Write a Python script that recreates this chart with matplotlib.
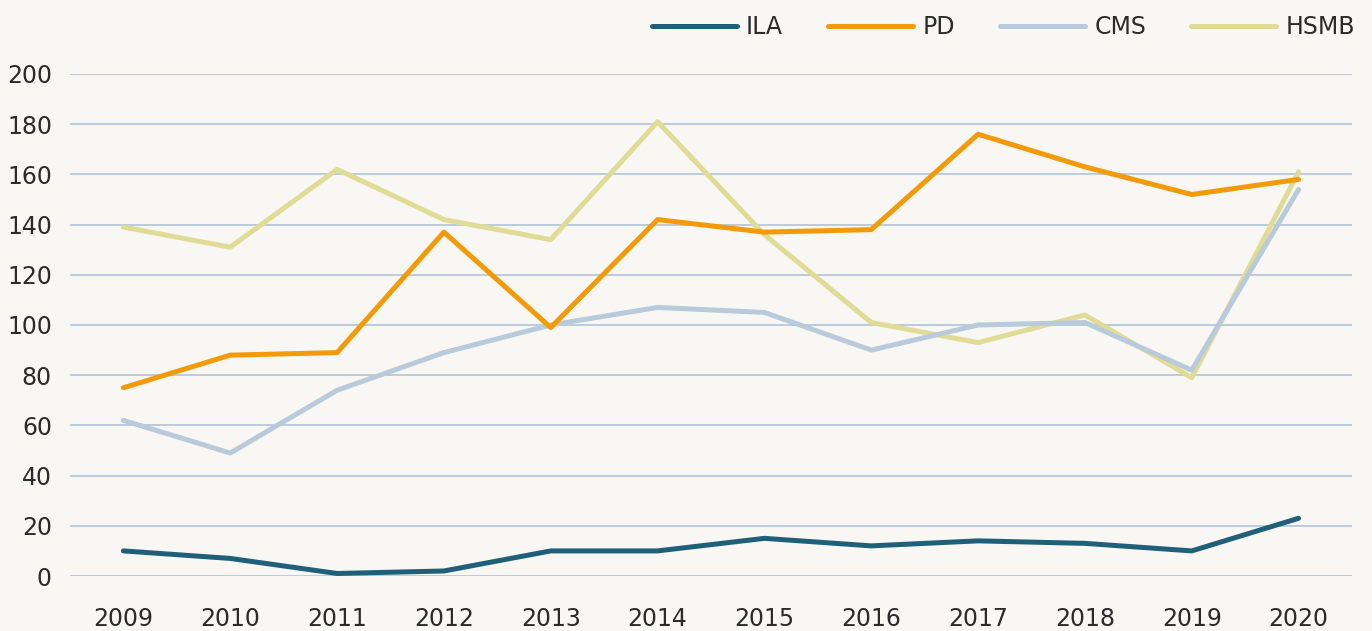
import matplotlib.pyplot as plt
import numpy as np

years = ['2009', '2010', '2011', '2012', '2013', '2014', '2015', '2016', '2017', '2018', '2019', '2020']
ila = [10, 7, 1, 2, 10, 10, 15, 12, 14, 13, 10, 23]
pd_vals = [75, 88, 89, 137, 99, 142, 137, 138, 176, 163, 152, 158]
cms = [62, 49, 74, 89, 100, 107, 105, 90, 100, 101, 82, 154]
hsmb = [139, 131, 162, 142, 134, 181, 136, 101, 93, 104, 79, 161]

bg = '#f8f7f3'
txt = '#2b2b2b'

fig = plt.figure(figsize=(13.72, 6.31), dpi=100, facecolor=bg)
ax = fig.add_axes([70 / 1372, 55 / 631, 1282 / 1372, 502 / 631])
ax.set_facecolor(bg)

x = np.arange(len(years))
lw = 3.6
l4, = ax.plot(x, hsmb, color='#e0dc96', lw=lw, solid_capstyle='round', clip_on=False, zorder=3)
l3, = ax.plot(x, cms, color='#b9cadb', lw=lw, solid_capstyle='round', clip_on=False, zorder=4)
l2, = ax.plot(x, pd_vals, color='#f39a0b', lw=lw, solid_capstyle='round', clip_on=False, zorder=5)
l1, = ax.plot(x, ila, color='#1f5f7a', lw=lw, solid_capstyle='round', clip_on=False, zorder=6)

ax.set_xlim(-0.5, len(years) - 0.5)
ax.set_ylim(0, 200)
ax.set_yticks(range(0, 201, 20))
ax.set_xticks(x)
ax.set_xticklabels(years)
ax.grid(axis='y', color='#aac0d6', lw=1.1)
ax.set_axisbelow(True)
for s in ax.spines.values():
    s.set_visible(False)
ax.tick_params(length=0, labelsize=17, colors=txt)
ax.tick_params(axis='x', pad=22)
ax.tick_params(axis='y', pad=13)

leg = fig.legend([l1, l2, l3, l4], ['ILA', 'PD', 'CMS', 'HSMB'], loc='upper right',
                 bbox_to_anchor=(1.003, 1.01), ncol=4, frameon=False, fontsize=17,
                 handlelength=3.6, columnspacing=1.9, handletextpad=0.4)
for t in leg.get_texts():
    t.set_color(txt)

fig.savefig('out.png', facecolor=bg)
